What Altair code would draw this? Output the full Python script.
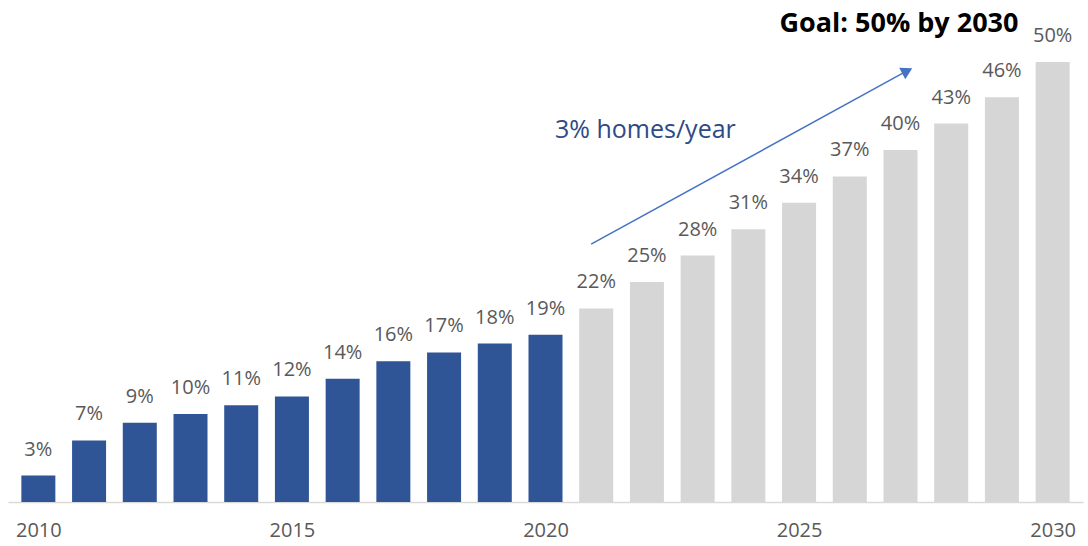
import altair as alt
import pandas as pd

years = list(range(2010, 2031))
values = [3, 7, 9, 10, 11, 12, 14, 16, 17, 18, 19, 22, 25, 28, 31, 34, 37, 40, 43, 46, 50]
kinds = ["actual"] * 11 + ["goal"] * 10
tick_years = [2010, 2015, 2020, 2025, 2030]

df = pd.DataFrame({"year": years, "value": values, "kind": kinds})
df["label"] = df["value"].astype(str) + "%"

arrow_df = pd.DataFrame({"x": [2020.9], "y": [29.3], "x2": [2027.1], "y2": [48.9]})
head_df = pd.DataFrame({"x": [2027.1], "y": [48.9]})
note_df = pd.DataFrame({"x": [2021.97], "y": [42.3], "t": ["3% homes/year"]})
title_df = pd.DataFrame({"x": [2026.97], "y": [54.3], "t": ["Goal: 50% by 2030"]})

FONT = "Open Sans"
xscale = alt.Scale(domain=[2009.5, 2030.5], nice=False, zero=False)
yscale = alt.Scale(domain=[0, 50], nice=False)

bars = alt.Chart(df).mark_bar(size=34).encode(
    x=alt.X("year:Q", scale=xscale,
            axis=alt.Axis(values=tick_years, format="d", title=None, grid=False, ticks=False,
                          domainColor="#D9D9D9", domainWidth=1.5, labelColor="#595959",
                          labelFontSize=20, labelFont=FONT, labelPadding=18)),
    y=alt.Y("value:Q", scale=yscale, axis=None),
    color=alt.Color("kind:N", scale=alt.Scale(domain=["actual", "goal"], range=["#2F5597", "#D6D6D6"]), legend=None),
)

labels = alt.Chart(df).mark_text(dy=-26, fontSize=20, font=FONT, color="#595959", baseline="middle").encode(
    x=alt.X("year:Q", scale=xscale),
    y=alt.Y("value:Q", scale=yscale),
    text="label:N",
)

arrow = alt.Chart(arrow_df).mark_rule(color="#4472C4", strokeWidth=1.5).encode(
    x=alt.X("x:Q", scale=xscale), y=alt.Y("y:Q", scale=yscale), x2="x2:Q", y2="y2:Q"
)
head = alt.Chart(head_df).mark_point(shape="triangle", filled=True, color="#4472C4", size=170, angle=62, opacity=1).encode(
    x=alt.X("x:Q", scale=xscale), y=alt.Y("y:Q", scale=yscale)
)
note = alt.Chart(note_df).mark_text(fontSize=25, font=FONT, color="#2E4A86", baseline="middle").encode(
    x=alt.X("x:Q", scale=xscale), y=alt.Y("y:Q", scale=yscale), text="t:N"
)
title = alt.Chart(title_df).mark_text(fontSize=27, font=FONT, fontWeight="bold", color="#000000", baseline="middle").encode(
    x=alt.X("x:Q", scale=xscale), y=alt.Y("y:Q", scale=yscale), text="t:N"
)

chart = alt.layer(bars, labels, arrow, head, note, title).properties(
    width=1075, height=440,
    background="white",
    autosize=alt.AutoSizeParams(type="none"),
    padding={"left": 8, "top": 62, "right": 5, "bottom": 44},
).configure_view(stroke=None, strokeWidth=0)

chart.save("out.html", embed_options={"renderer": "svg", "actions": False})
